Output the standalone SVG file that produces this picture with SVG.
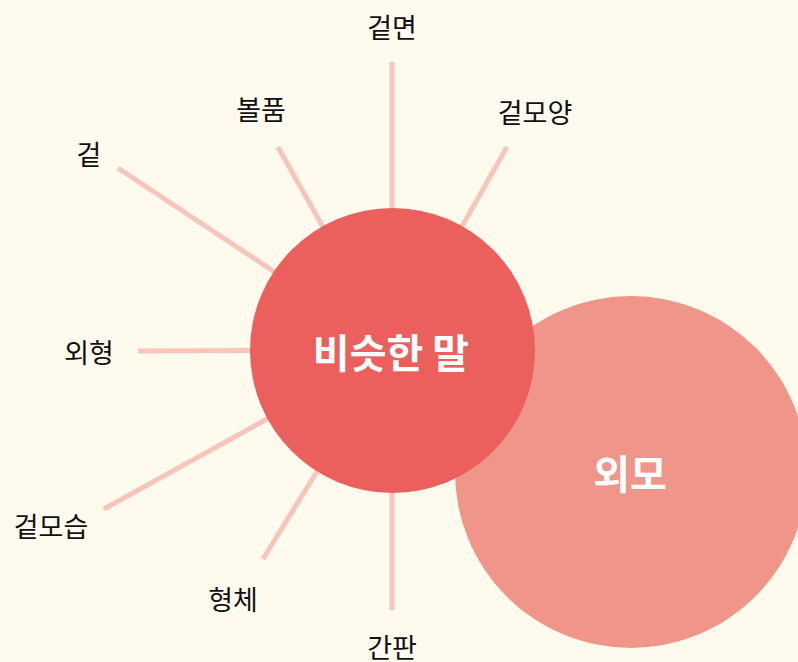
<svg xmlns="http://www.w3.org/2000/svg" width="798" height="662" viewBox="0 0 798 662">
<style>
.bg{fill:#FEFAEE}
.spoke{stroke:#F7C5BA;stroke-width:5;fill:none}
.lbl{font-family:"Noto Sans CJK KR","Noto Sans",sans-serif;font-size:27px;fill:#111;text-anchor:middle;dominant-baseline:central}
.ctr{font-family:"Noto Sans CJK KR","Noto Sans",sans-serif;font-weight:bold;fill:#fff;text-anchor:middle;dominant-baseline:central}
</style>
<rect class="bg" x="0" y="0" width="798" height="662"/>
<g id="node-oemo">
<circle cx="631" cy="472" r="176" fill="#F0958A"/>
<text class="ctr" x="630" y="472" font-size="40">외모</text>
</g>
<g id="connectors">
<line class="spoke" x1="392" y1="350" x2="392" y2="62"/>
<line class="spoke" x1="392" y1="350" x2="507" y2="147"/>
<line class="spoke" x1="392" y1="350" x2="278" y2="147"/>
<line class="spoke" x1="392" y1="350" x2="118" y2="168"/>
<line class="spoke" x1="392" y1="350" x2="138" y2="351"/>
<line class="spoke" x1="392" y1="350" x2="104" y2="509"/>
<line class="spoke" x1="392" y1="350" x2="263" y2="559"/>
<line class="spoke" x1="392" y1="350" x2="392" y2="610"/>
</g>
<g id="node-main">
<circle cx="392.5" cy="350.5" r="142.5" fill="#EB605C"/>
<text class="ctr" x="391" y="351" font-size="40">비슷한 말</text>
</g>
<g id="node-geotmyeon"><text class="lbl" x="392" y="26">겉면</text></g>
<g id="node-bolpum"><text class="lbl" x="261" y="108">볼품</text></g>
<g id="node-geotmoyang"><text class="lbl" x="535" y="111">겉모양</text></g>
<g id="node-geot"><text class="lbl" x="89" y="153">겉</text></g>
<g id="node-oehyeong"><text class="lbl" x="89" y="351">외형</text></g>
<g id="node-geotmoseup"><text class="lbl" x="51" y="525">겉모습</text></g>
<g id="node-hyeongche"><text class="lbl" x="233" y="598">형체</text></g>
<g id="node-ganpan"><text class="lbl" x="392" y="646">간판</text></g>
</svg>
